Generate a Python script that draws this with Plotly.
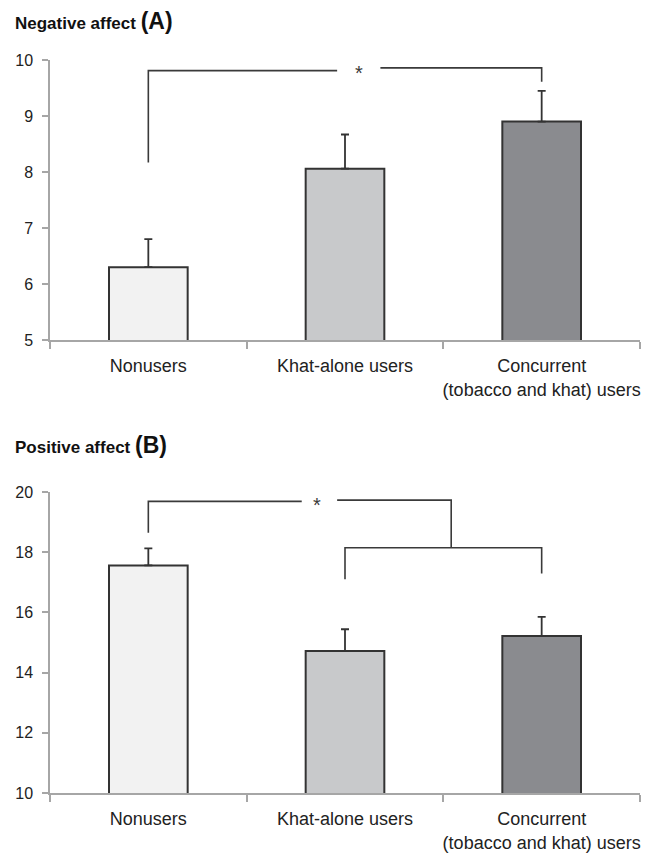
import plotly.graph_objects as go

categories = ["Nonusers", "Khat-alone users", "Concurrent<br>(tobacco and khat) users"]
cat_pos = [0, 1, 2]
bar_colors = ["#f2f2f2", "#c8c9cb", "#8a8b8f"]

neg_means = [6.30, 8.06, 8.90]
neg_err = [0.50, 0.61, 0.55]
pos_means = [17.56, 14.72, 15.22]
pos_err = [0.57, 0.72, 0.63]

neg_ticks = [5, 6, 7, 8, 9, 10]
pos_ticks = [10, 12, 14, 16, 18, 20]

# significance brackets (category position, value)
neg_br1_x = [0, 0, 0.96]
neg_br1_y = [8.17, 9.81, 9.81]
neg_br2_x = [1.18, 2, 2]
neg_br2_y = [9.86, 9.86, 9.61]
neg_star = (1.07, 9.81)

pos_br1_x = [0, 0, 0.78]
pos_br1_y = [18.65, 19.69, 19.69]
pos_br2_x = [0.96, 1.54, 1.54]
pos_br2_y = [19.73, 19.73, 18.15]
pos_br3_x = [1, 1, 2, 2]
pos_br3_y = [17.10, 18.15, 18.15, 17.29]
pos_star = (0.86, 19.62)

FONT = "Liberation Sans, Arial, sans-serif"
TXT = "#222222"
AX = "#a6a6a6"
LINE = "#3a3a3a"

fig = go.Figure()

def add_panel(xa, ya, means, errs):
    fig.add_trace(go.Bar(
        x=cat_pos, y=means, width=0.4, xaxis=xa, yaxis=ya,
        marker=dict(color=bar_colors, line=dict(color="#333333", width=2)),
        error_y=dict(type="data", array=errs, symmetric=False, arrayminus=[0]*3,
                     color="#333333", thickness=1.8, width=4),
        showlegend=False, hoverinfo="skip"))

def add_line(xa, ya, xs, ys):
    fig.add_trace(go.Scatter(x=xs, y=ys, mode="lines", xaxis=xa, yaxis=ya,
                             line=dict(color=LINE, width=1.6), showlegend=False,
                             hoverinfo="skip", cliponaxis=False))

add_panel("x", "y", neg_means, neg_err)
add_line("x", "y", neg_br1_x, neg_br1_y)
add_line("x", "y", neg_br2_x, neg_br2_y)
add_panel("x2", "y2", pos_means, pos_err)
add_line("x2", "y2", pos_br1_x, pos_br1_y)
add_line("x2", "y2", pos_br2_x, pos_br2_y)
add_line("x2", "y2", pos_br3_x, pos_br3_y)

W, H = 647, 860
xdom = [50 / W, 640 / W]
top_dom = [1 - 340 / H, 1 - 60 / H]
bot_dom = [1 - 793 / H, 1 - 492 / H]

def xaxis(anchor):
    return dict(domain=xdom, anchor=anchor, range=[-0.5, 2.5], automargin=False,
                tickvals=cat_pos, ticktext=categories, ticks="",
                tickfont=dict(family=FONT, size=18, color=TXT),
                showline=True, linecolor=AX, linewidth=1.5, showgrid=False,
                zeroline=False, ticklabelstandoff=9,
                minor=dict(tickvals=[-0.5, 0.5, 1.5, 2.5], ticks="outside",
                           ticklen=7, tickcolor=AX, tickwidth=1.5))

def yaxis(anchor, dom, rng, ticks):
    return dict(domain=dom, anchor=anchor, range=rng, tickvals=ticks, automargin=False,
                ticks="outside", ticklen=6, tickcolor=AX, tickwidth=1.5,
                tickfont=dict(family=FONT, size=16, color=TXT),
                showline=True, linecolor=AX, linewidth=1.5, showgrid=False,
                zeroline=False, ticklabelstandoff=6)

fig.update_layout(
    width=W, height=H, margin=dict(l=0, r=0, t=0, b=0, autoexpand=False),
    paper_bgcolor="white", plot_bgcolor="white",
    xaxis=xaxis("y"), yaxis=yaxis("x", top_dom, [5, 10], neg_ticks),
    xaxis2=xaxis("y2"), yaxis2=yaxis("x2", bot_dom, [10, 20], pos_ticks),
    font=dict(family=FONT, color=TXT),
)

fig.add_annotation(xref="paper", yref="paper", x=13 / W, y=1 - 21 / H,
                   xanchor="left", yanchor="middle", showarrow=False,
                   text="<b>Negative affect <span style='font-size:23px'>(A)</span></b>",
                   font=dict(family=FONT, size=17, color="#111111"))
fig.add_annotation(xref="paper", yref="paper", x=13 / W, y=1 - 445 / H,
                   xanchor="left", yanchor="middle", showarrow=False,
                   text="<b>Positive affect <span style='font-size:23px'>(B)</span></b>",
                   font=dict(family=FONT, size=17, color="#111111"))

fig.add_annotation(xref="x", yref="y", x=neg_star[0], y=neg_star[1], text="*",
                   showarrow=False, yshift=-2, font=dict(family=FONT, size=20, color=LINE))
fig.add_annotation(xref="x2", yref="y2", x=pos_star[0], y=pos_star[1], text="*",
                   showarrow=False, yshift=-2, font=dict(family=FONT, size=20, color=LINE))

fig.write_html("out.html", config={"displayModeBar": False},
               post_script="document.body.style.margin='0';document.body.style.padding='0';")
